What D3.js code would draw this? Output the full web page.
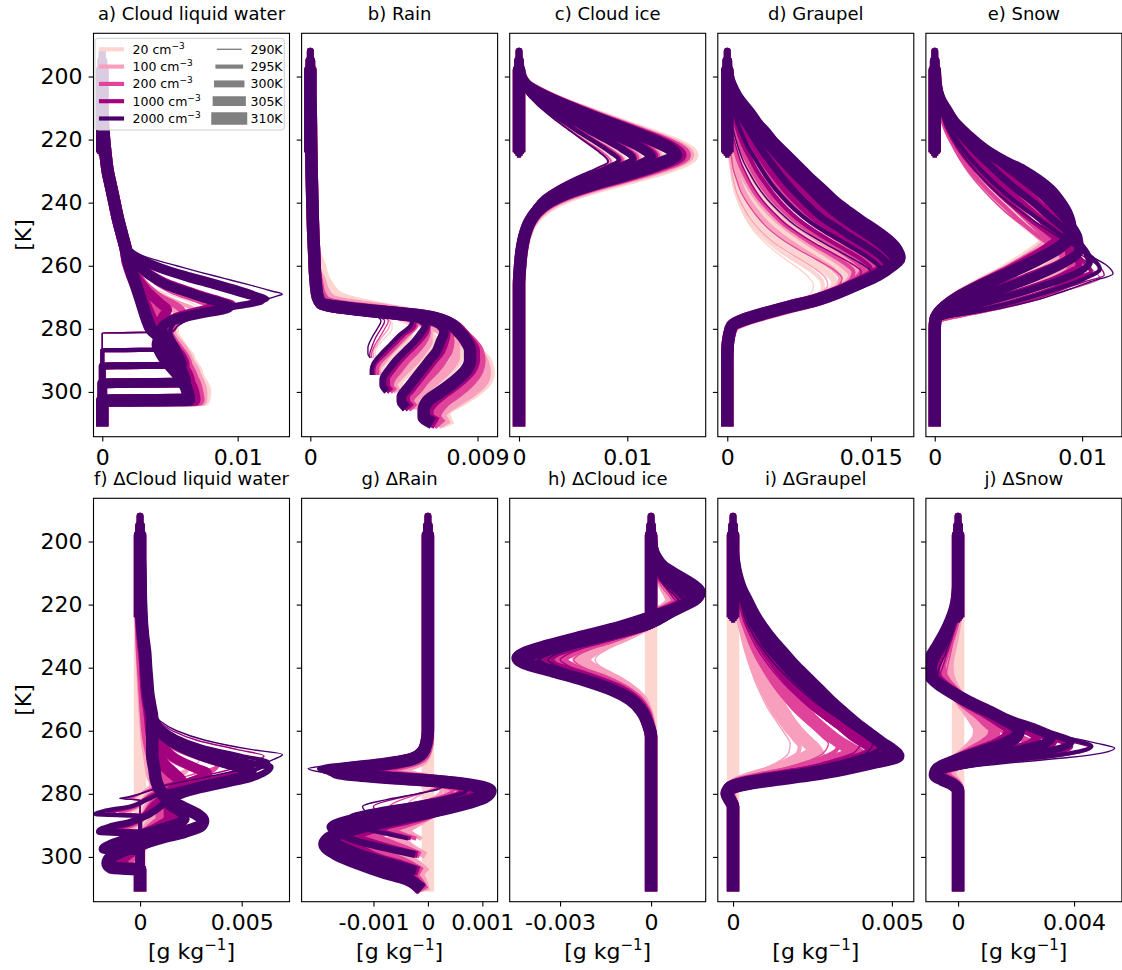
<!DOCTYPE html>
<html><head><meta charset="utf-8">
<script src="https://cdn.jsdelivr.net/npm/d3@7"></script>
<style>body{margin:0;background:#fff}svg{font-family:"DejaVu Sans",sans-serif}</style>
</head><body><svg id="chart" width="1122" height="970"></svg>
<script>
// Hydrometeor profiles against temperature for 5 CCN concentrations x 5 SSTs.
// Each profile: flat list [T(K), q, T, q, ...] from the lowest level upward,
// q in units of 1e-4 g/kg. Rows are ordered CCN-major (20,100,200,1000,2000), SST-minor.
const sst = [290, 295, 300, 305, 310];
const ccn = ['20', '100', '200', '1000', '2000'];
const ccnColors = ['#fcd5d0', '#f89fbd', '#e0449a', '#a2027e', '#49006a'];
const sstWidths = [1.39, 4.17, 6.94, 9.72, 12.5];
const coldPoint = [199, 199, 192, 195, 198];
const stratBase = [225, 225, 224, 223, 222];

const liquidAloft = [255,17.5, 250,14.5, 245,11.5, 240,9, 235,6.5, 230,4, 225,2.5, 220,1.3, 215,0.5, 208,0];
const rainAloft = [262,2.5, 255,2, 250,1.6, 240,1.1, 230,0.7, 220,0.4, 210,0.2, 205,0];

const cloudLiquid = [
[289,0, 281.3,0, 281,48, 279,52, 277,58, 275,66, 273,70, 271,62, 268,42, 265,30, 262,24, 259,19],
[294,0, 286.8,0, 286.5,58, 284,57, 281,55, 278,55, 276,58, 274,56, 271,45, 268,34, 264,26, 260,20],
[299,0, 291.8,0, 291.5,67, 289,66, 286,61, 283,56, 280,52, 277,50, 274,46, 270,38, 266,30, 262,24, 259,19],
[304,0, 297.3,0, 297,72, 294,71, 291,67, 288,61, 285,56, 282,52, 279,48, 275,42, 271,35, 267,29, 263,24, 259,19],
[309,0, 302.8,0, 302.5,75, 300,76, 297,73, 294,68, 291,63, 288,58, 285,53, 282,48, 279,44, 275,39, 271,33, 267,28, 263,23, 259,19],
[289,0, 281.3,0, 281,48, 279,53, 277,60, 275,72, 273,88, 272,95, 270.5,87, 269,75, 267,60, 265,47, 262,34, 259,26, 256,21],
[294,0, 286.8,0, 286.5,58, 284,56, 281,53, 278,54, 276,62, 274,68, 272,58, 269,42, 265,30, 262,24, 259,19],
[299,0, 291.8,0, 291.5,66, 289,64, 286,60, 283,54, 280,50, 277,52, 275,55, 272,46, 268,35, 264,27, 260,21],
[304,0, 297.3,0, 297,70, 294,69, 291,65, 288,59, 285,54, 282,50, 279,46, 276,45, 273,40, 269,33, 265,27, 261,22],
[309,0, 302.8,0, 302.5,73, 300,73, 297,71, 294,67, 291,61, 288,56, 285,51, 282,46, 279,42, 275,38, 271,32, 267,27, 263,23, 259,19],
[289,0, 281.3,0, 281,50, 279,55, 277,62, 275,75, 273,95, 271,110, 270,113, 268.5,104, 267,90, 265,72, 263,56, 261,43, 259,32, 257,25, 255,20.5, 253,18],
[294,0, 286.8,0, 286.5,56, 284,54, 281,51, 278,53, 276,62, 274,76, 273,80, 271.5,72, 270,62, 268,50, 265,38, 262,29, 259,23, 256,19.5],
[299,0, 291.8,0, 291.5,64, 289,62, 286,57, 283,52, 280,48, 277,52, 275,60, 273,56, 270,43, 266,32, 262,25, 259,20],
[304,0, 297.3,0, 297,68, 294,66, 291,62, 288,56, 285,51, 282,47, 279,44, 276,44, 273,39, 269,32, 265,26, 261,21],
[309,0, 302.8,0, 302.5,71, 300,70, 297,68, 294,63, 291,58, 288,53, 285,48, 282,44, 279,40, 275,36, 271,31, 267,27, 263,23, 259,19],
[289,0, 281.3,0, 281,50, 279,56, 277,65, 275,80, 273,100, 271,115, 270,118, 268.5,110, 267,96, 265,78, 263,61, 261,46, 259,34, 257,26, 255,21, 253,18],
[294,0, 286.8,0, 286.5,55, 284,53, 281,50, 278,53, 276,65, 274,85, 273,94, 272,97, 270.5,88, 269,76, 267,62, 265,49, 262,36, 259,27, 256,21, 253,18],
[299,0, 291.8,0, 291.5,62, 289,60, 286,55, 283,50, 280,46, 277,50, 275,62, 274,72, 273,80, 272,84, 270.5,75, 268.5,62, 266,48, 263,36, 260,28, 257,22, 254,18],
[304,0, 297.3,0, 297,65, 294,63, 291,58, 288,52, 285,47, 282,43, 279,42, 276,45, 274,48, 272,43, 268,33, 264,26, 260,21],
[309,0, 302.8,0, 302.5,68, 300,67, 297,64, 294,59, 291,54, 288,49, 285,45, 282,41, 279,38, 275,34, 271,30, 267,26, 263,22, 259,19],
[289,0, 281.3,0, 281,52, 279,56, 277,64, 275,72, 273,95, 271,118, 269.5,130, 269,133, 268,125, 266,108, 264,90, 262,72, 260,55, 258,38, 256,25, 254,19],
[294,0, 286.8,0, 286.5,56, 284,53, 281,50, 278,54, 276,66, 274,88, 272,110, 270.5,122, 269,114, 267,100, 265,84, 263,67, 261,51, 259,38, 257,28, 255,21, 253,18],
[299,0, 291.8,0, 291.5,60, 289,58, 286,54, 283,49, 280,45, 277,50, 275,68, 273,95, 272,110, 271,118, 269.5,108, 268,96, 266,80, 264,63, 262,48, 260,36, 258,27, 256,21, 254,18],
[304,0, 297.3,0, 297,62, 294,60, 291,56, 288,50, 285,45, 282,42, 279,45, 277,55, 275,75, 274,88, 273,94, 271.5,86, 270,74, 268,60, 266,47, 263,35, 260,27, 257,21, 254,17.5],
[309,0, 302.8,0, 302.5,64, 300,63, 297,60, 294,55, 291,49, 288,44, 285,41, 283,42, 280,36, 277,33, 273,30, 269,27, 265,24, 261,21, 258,19]
];

const rain = [
[289,35, 287,35, 285,37, 283,40, 280,44, 278,44, 276,36, 274,22, 272,13, 269,8, 265,6, 260,5],
[294,39, 292,39, 290,42, 288,45, 285,50, 282,54, 279,54, 277,48, 275,36, 273,22, 271,14, 268,9, 264,6, 260,5],
[299,49, 297,48, 295,51, 293,55, 290,60, 287,64, 284,66, 281,65, 278,58, 276,48, 274,33, 272,20, 270,13, 267,9, 263,6, 260,5],
[304,59, 302,58, 300,61, 298,66, 295,72, 292,77, 289,80, 286,80, 283,76, 280,70, 277,60, 275,45, 273,28, 271,16, 268,10, 264,7, 260,5],
[309,73, 307,72, 305,74, 303,80, 300,88, 297,94, 294,96, 291,95, 288,91, 285,86, 282,80, 279,72, 276,60, 274,42, 272,25, 270,15, 267,10, 264,7, 260,5],
[289,34, 287,34, 285,36, 283,38, 280,42, 278,43, 276,38, 274.5,25, 273,13, 271,7, 268,5, 264,3.5],
[294,37, 292.5,37, 291,39, 288,43, 285,48, 282,53, 279,56, 277,52, 275.5,40, 274,24, 272.5,12, 270.5,7, 267,5, 263,3.5],
[299,46, 297.5,45, 296,47, 293,52, 290,57, 287,61, 284,64, 281,64, 278,58, 276,46, 274.5,30, 273,16, 271,9, 268,6, 264,4],
[304,56, 302.5,56, 301,58, 298,64, 295,70, 292,75, 289,78, 286,78, 283,75, 280,69, 277,58, 275,42, 273.5,24, 272,12, 270,7, 266,4.5],
[309,71, 307.5,70, 306,71, 303,78, 300,86, 297,92, 294,94, 291,93, 288,90, 285,85, 282,79, 279,71, 276,58, 274,40, 272.5,22, 271,11, 268,7, 264,4.5],
[289,33, 288,33, 286,34, 283,37, 280,40, 277.5,42, 276,38, 274.5,24, 273,11, 271,6, 268,4, 264,3],
[294,36, 293,36, 291,37, 288,42, 285,47, 282,52, 279,57, 277,55, 275.5,42, 274,24, 272.5,10, 271,6, 268,4, 264,3],
[299,44, 298,43, 296,44, 293,48, 290,52, 287,57, 284,61, 281,63, 279,62, 277,56, 275.5,40, 274,22, 272.5,10, 271,6, 268,4, 264,3],
[304,54, 303,53, 301.5,54, 299,58, 296,62, 293,67, 290,71, 287,74, 284,75, 281,74, 278,67, 276,52, 274.5,30, 273,13, 271.5,7, 269,5, 265,3.5],
[309,68, 308,67, 306,68, 303,72, 300,79, 297,85, 293,90, 290,91, 287,90, 284,86, 281,80, 278,72, 276,60, 274.5,40, 273,18, 271.5,8, 269,5, 265,3.5],
[289,32, 288,32, 286,33, 283,35, 280,38, 277.5,40, 276,36, 274.5,22, 273.5,9, 272.5,5, 270,4, 266,3],
[294,34, 293,34, 291,35, 288,40, 285,45, 282,50, 279,56, 277,56, 275.5,42, 274,22, 273,9, 272,5, 270,4, 266,3],
[299,42, 298,41, 296,41, 293,44, 290,48, 287,53, 284,58, 281,62, 279,63, 277,58, 275.5,40, 274,20, 273,9, 272,5, 270,4, 266,3],
[304,52, 303,51, 301.5,51, 299,54, 296,58, 293,62, 290,66, 287,70, 284,72, 281,73, 278,68, 276,52, 274.5,28, 273,10, 272,5, 270,4, 266,3],
[309,65, 308,63, 306,63, 303,66, 300,72, 297,79, 293,86, 290,88, 287,88, 284,85, 281,81, 278,74, 276,62, 274.5,38, 273,14, 272,6, 270,4, 266,3],
[289,32, 288,31, 286,31, 283,33, 280,36, 277.5,38, 276,35, 274.5,22, 273.5,8, 272.5,5, 270,4, 266,3],
[294,33, 293,33, 291,34, 288,38, 285,43, 282,48, 279,54, 277,55, 275.5,42, 274,22, 273,8, 272,5, 270,4, 266,3],
[299,40, 298,39, 296,39, 293,42, 290,46, 287,51, 284,56, 281,60, 279,62, 277,58, 275.5,40, 274,20, 273,8, 272,5, 270,4, 266,3],
[304,50, 303,49, 301.5,49, 299,52, 296,56, 293,60, 290,64, 287,68, 284,70, 281,72, 278,68, 276,52, 274.5,28, 273,9, 272,5, 270,4, 266,3],
[309,63, 308,61, 306,61, 303,63, 300,70, 297,77, 293,84, 290,86, 287,86, 284,84, 281,80, 278,74, 276,62, 274.5,38, 273,14, 272,6, 270,4, 266,3]
];

const cloudIce = [
[289,0, 266,0, 260,1, 255,2.3, 250,4.5, 245,9.5, 241,16, 238,26, 235,40, 232,58, 229,79, 227,88, 224,80, 221,67, 218,54, 215,41, 212,29, 209,18, 206,9.5, 203,4, 200.5,1],
[294,0, 266,0, 260,1, 255,2.3, 250,5, 245,10.5, 241,18, 238,30, 235,46, 232,64, 229,87, 226.5,98, 224,90, 221,76, 218,61, 215,47, 212,33, 209,21, 206,10.5, 203,4, 200.5,1],
[299,0, 266,0, 260,1.1, 255,2.6, 250,5.8, 245,12, 241,21, 238,34, 235,52, 232,74, 229,98, 226,112, 223,102, 220,86, 217,69, 214,52, 211,36, 208,22, 205,11, 202,4, 199.5,1],
[304,0, 266,0, 260,1.2, 255,2.8, 250,6, 245,13, 241,24, 238,39, 235,60, 232,86, 229,114, 227,126, 225.5,130, 223,122, 220,104, 217,83, 214,63, 211,44, 208,27, 205,13, 202,4.5, 199.5,1],
[309,0, 266,0, 260,1.2, 255,3, 250,6.5, 246,12, 243,20, 240,33, 237,54, 234,83, 231,116, 228,144, 226,157, 225,160, 223,154, 220,134, 217,109, 214,84, 211,60, 208,37, 205,18, 203,7.5, 201,2.5, 199,0.5],
[289,0, 266,0, 260,0.9, 255,2.1, 250,4.2, 245,9, 241,15, 238,24, 235,37, 232,55, 229,76, 227,86, 224,78, 221,65, 218,52, 215,40, 212,28, 209,17, 206,9, 203,4, 200.5,1],
[294,0, 266,0, 260,0.9, 255,2.1, 250,4.7, 245,10, 241,17, 238,28, 235,43, 232,61, 229,84, 226.5,96, 224,88, 221,74, 218,60, 215,46, 212,32, 209,20, 206,10, 203,4, 200.5,1],
[299,0, 266,0, 260,1, 255,2.4, 250,5.4, 245,11, 241,20, 238,32, 235,49, 232,71, 229,95, 226,110, 223,100, 220,84, 217,67, 214,51, 211,35, 208,22, 205,11, 202,4, 199.5,1],
[304,0, 266,0, 260,1.1, 255,2.6, 250,5.5, 245,12, 241,22, 238,36, 235,57, 232,82, 229,110, 227,123, 225.5,128, 223,120, 220,102, 217,81, 214,62, 211,43, 208,26, 205,12.5, 202,4.5, 199.5,1],
[309,0, 266,0, 260,1.1, 255,2.7, 250,6, 246,11, 243,18, 240,30, 237,50, 234,78, 231,110, 228,138, 226,152, 225,156, 223,150, 220,130, 217,106, 214,82, 211,58, 208,36, 205,17, 203,7, 201,2.5, 199,0.5],
[289,0, 266,0, 260,0.8, 255,2, 250,4, 245,8.5, 241,14.5, 238,23, 235,36, 232,54, 229,75, 227,85, 224,77, 221,64, 218,51, 215,39, 212,28, 209,17, 206,9, 203,4, 200.5,1],
[294,0, 266,0, 260,0.8, 255,2, 250,4.5, 245,9.5, 241,16.5, 238,27, 235,42, 232,60, 229,83, 226.5,95, 224,87, 221,73, 218,59, 215,45, 212,32, 209,20, 206,10, 203,4, 200.5,1],
[299,0, 266,0, 260,0.9, 255,2.3, 250,5.2, 245,10.5, 241,19, 238,31, 235,47, 232,69, 229,93, 226,108, 223,98, 220,82, 217,66, 214,50, 211,35, 208,21, 205,11, 202,4, 199.5,1],
[304,0, 266,0, 260,1, 255,2.5, 250,5.3, 245,11.5, 241,21, 238,35, 235,55, 232,80, 229,108, 227,121, 225.5,126, 223,118, 220,100, 217,80, 214,61, 211,42, 208,26, 205,12, 202,4.5, 199.5,1],
[309,0, 266,0, 260,1, 255,2.6, 250,5.8, 246,10.5, 243,17, 240,28, 237,47, 234,74, 231,106, 228,134, 226,149, 225,153, 223,147, 220,128, 217,104, 214,80, 211,57, 208,35, 205,17, 203,7, 201,2.5, 199,0.5],
[289,0, 266,0, 260,0.8, 255,2, 250,4, 245,8, 241,14, 238,22, 235,36, 232,53, 229,73, 227,83, 224,75, 221,63, 218,51, 215,39, 212,28, 209,17, 206,9, 203,4, 200.5,1],
[294,0, 266,0, 260,0.8, 255,2, 250,4.5, 245,9, 241,16, 238,26, 235,41, 232,59, 229,81, 226.5,93, 224,85, 221,72, 218,58, 215,44, 212,31, 209,20, 206,10, 203,4, 200.5,1],
[299,0, 266,0, 260,0.9, 255,2.2, 250,5, 245,10, 241,18, 238,30, 235,46, 232,67, 229,91, 226,106, 223,96, 220,81, 217,65, 214,49, 211,34, 208,21, 205,11, 202,4, 199.5,1],
[304,0, 266,0, 260,1, 255,2.4, 250,5, 245,11, 241,20, 238,34, 235,53, 232,78, 229,106, 227,119, 225.5,124, 223,116, 220,98, 217,79, 214,60, 211,42, 208,25, 205,12, 202,4.5, 199.5,1],
[309,0, 266,0, 260,1, 255,2.5, 250,5.5, 246,10, 243,16, 240,27, 237,45, 234,72, 231,103, 228,130, 226,145, 225,149, 223,143, 220,125, 217,102, 214,78, 211,56, 208,35, 205,16, 203,7, 201,2.5, 199,0.5],
[289,0, 266,0, 260,0.8, 255,2, 250,4, 245,8, 241,14, 238,22, 235,35, 232,52, 229,72, 227,82, 224,74, 221,62, 218,50, 215,38, 212,27, 209,17, 206,9, 203,4, 200.5,1],
[294,0, 266,0, 260,0.8, 255,2, 250,4.5, 245,9, 241,16, 238,26, 235,40, 232,58, 229,80, 226.5,92, 224,84, 221,71, 218,57, 215,44, 212,31, 209,20, 206,10, 203,4, 200.5,1],
[299,0, 266,0, 260,0.9, 255,2.2, 250,5, 245,10, 241,18, 238,29, 235,45, 232,66, 229,90, 226,105, 223,95, 220,80, 217,64, 214,49, 211,34, 208,21, 205,11, 202,4, 199.5,1],
[304,0, 266,0, 260,1, 255,2.4, 250,5, 245,11, 241,20, 238,33, 235,52, 232,77, 229,104, 227,117, 225.5,122, 223,114, 220,97, 217,78, 214,59, 211,41, 208,25, 205,12, 202,4.5, 199.5,1],
[309,0, 266,0, 260,1, 255,2.5, 250,5.5, 246,10, 243,16, 240,26, 237,44, 234,70, 231,100, 228,127, 226,141, 225,145, 223,140, 220,122, 217,100, 214,77, 211,55, 208,34, 205,16, 203,7, 201,2.5, 199,0.5]
];

const graupel = [
[289,0, 284,0, 282,2.5, 280,7, 278,15, 276,31, 274,50, 272,68, 270,82, 268,89, 266,90, 264,86, 261,75, 258,61, 255,48, 252,37, 249,28, 245,19, 241,13, 237,8, 233,5, 229,3.2, 225,2, 220,1, 213,0.4, 206,0.1, 202,0],
[294,0, 287,0, 284,1.5, 281,4, 279,8, 277,22, 275,43, 273,65, 271,84, 269,96, 267,100, 265,99, 262,90, 259,75, 256,59, 253,46, 250,35, 247,26, 243,18, 239,12, 235,8, 231,5.5, 227,3.5, 222,2, 216,1, 209,0.3, 203,0],
[299,0, 290,0, 285,0.5, 282,2.5, 279,7, 277,22, 275,44, 273,67, 271,89, 268,106, 266,112, 265,112, 262,104, 259,89, 256,73, 253,58, 250,45, 247,35, 243,25, 239,17, 235,11.5, 231,8, 227,5.5, 223,3.5, 218,2, 213,1, 207,0.4, 202,0],
[304,0, 290,0, 285,0.5, 282,2.5, 279,7, 277,22, 275,44, 273,68, 271,91, 268,113, 266,123, 264,125, 261,118, 258,104, 255,88, 252,72, 249,58, 246,46, 242,34, 238,24, 234,17, 230,12, 226,8, 222,5.5, 218,3.5, 213,2, 208,1, 203,0.3],
[309,0, 290,0, 285,0.5, 282,2.5, 279,7, 277,22, 275,44, 273,68, 271,92, 268,117, 266,130, 264,137, 263,138, 260,132, 257,120, 254,105, 251,89, 248,74, 245,60, 242,48, 238,36, 234,27, 230,20, 226,14, 222,10, 218,7, 214,4.5, 210,2.5, 206,1.2, 202,0.4],
[289,0, 284,0, 282,2, 280,6, 278,14, 276,30, 274,50, 272,70, 270,88, 268,100, 266,105, 264,103, 261,92, 258,76, 255,60, 252,46, 249,35, 245,24, 241,16, 237,10, 233,6.5, 229,4, 225,2.5, 220,1.3, 214,0.6, 208,0.2, 202,0],
[294,0, 287,0, 284,1, 281,3, 279,7, 277,20, 275,42, 273,65, 271,88, 268,108, 266,116, 264,118, 261,110, 258,95, 255,79, 252,64, 249,51, 246,40, 242,29, 238,20, 234,14, 230,10, 226,7, 222,4.5, 218,3, 213,1.5, 207,0.5, 202,0],
[299,0, 290,0, 285,0.5, 282,2, 279,6, 277,20, 275,42, 273,66, 271,89, 268,112, 266,123, 264,129, 263,130, 260,122, 257,108, 254,92, 251,77, 248,63, 245,51, 241,38, 237,28, 233,20, 229,14, 225,10, 221,7, 217,4.5, 213,3, 209,1.5, 205,0.6, 201,0.1],
[304,0, 290,0, 285,0.5, 282,2, 279,6, 277,20, 275,42, 273,66, 271,90, 268,114, 266,127, 263,138, 262,140, 259,133, 256,120, 253,105, 250,90, 247,76, 244,63, 240,50, 236,39, 232,30, 228,23, 224,17, 220,12, 216,8, 212,5, 208,2.5, 204,1, 200,0.3],
[309,0, 290,0, 285,0.5, 282,2, 279,6, 277,20, 275,42, 273,66, 271,91, 268,116, 266,129, 263,145, 261,150, 258,146, 255,136, 252,122, 249,107, 246,93, 243,80, 240,68, 236,56, 233,47, 230,39, 227,32, 224,25, 221,19, 218,14, 215,10, 212,7, 209,4, 206,2, 203,0.8, 201,0.3],
[289,0, 284,0, 282,2, 280,6, 278,14, 276,30, 274,50, 272,72, 270,93, 268,108, 266,117, 264,120, 261,110, 258,93, 255,75, 252,59, 249,46, 245,33, 241,23, 237,15, 233,10, 229,6, 225,4, 220,2, 214,1, 208,0.3, 202,0],
[294,0, 287,0, 284,1, 281,3, 279,7, 277,20, 275,42, 273,66, 271,90, 268,113, 266,124, 264,130, 262,132, 259,122, 256,106, 253,89, 250,74, 247,60, 243,46, 239,34, 235,25, 231,18, 227,12, 223,8, 219,5, 215,3, 210,1.5, 205,0.5, 201,0.1],
[299,0, 290,0, 285,0.5, 282,2, 279,6, 277,20, 275,42, 273,66, 271,91, 268,115, 266,128, 263,139, 261,142, 258,133, 255,119, 252,103, 249,88, 246,74, 242,59, 238,46, 234,36, 230,28, 226,21, 222,15, 218,10, 214,6, 210,3.5, 206,1.5, 202,0.5, 199.5,0.1],
[304,0, 290,0, 285,0.5, 282,2, 279,6, 277,20, 275,42, 273,66, 271,92, 268,117, 266,131, 263,146, 261,151, 260,152, 257,145, 254,132, 251,117, 248,102, 245,88, 241,73, 237,60, 233,49, 229,39, 225,31, 221,23, 217,17, 213,11, 209,6, 205,3, 202,1, 200,0.3],
[309,0, 290,0, 285,0.5, 282,2, 279,6, 277,20, 275,42, 273,66, 271,92, 268,118, 266,132, 263,150, 260,159, 259,160, 256,155, 253,145, 250,131, 247,117, 244,103, 240,89, 236,76, 233,66, 230,57, 227,48, 224,40, 221,32, 218,25, 215,19, 212,14, 209,9, 206,5, 203,2, 201,0.7],
[289,0, 284,0, 282,2, 280,5, 278,12, 276,28, 274,49, 272,73, 270,97, 268,116, 266,129, 264,137, 262,140, 259,128, 256,110, 253,92, 250,76, 247,62, 243,48, 239,36, 235,27, 231,20, 227,14, 223,10, 219,6, 215,4, 210,2, 205,0.8, 201,0.2],
[294,0, 287,0, 284,1, 281,3, 279,6, 277,18, 275,40, 273,64, 271,90, 268,116, 266,131, 264,143, 261,150, 258,140, 255,124, 252,107, 249,91, 246,77, 242,62, 238,50, 234,40, 230,31, 226,24, 222,17, 218,12, 214,8, 210,5, 206,2.5, 202,0.8, 200,0.2],
[299,0, 290,0, 285,0.5, 282,2, 279,5, 277,18, 275,40, 273,64, 271,90, 268,118, 266,134, 263,152, 261,158, 260,160, 257,151, 254,137, 251,121, 248,106, 245,92, 241,77, 237,64, 233,53, 229,43, 225,34, 221,26, 217,19, 213,12, 209,7, 205,3, 202,1, 199.5,0.2],
[304,0, 290,0, 285,0.5, 282,2, 279,5, 277,18, 275,40, 273,64, 271,90, 268,118, 266,134, 263,154, 260,165, 259,168, 256,163, 253,152, 250,138, 247,123, 244,109, 240,94, 236,81, 233,71, 230,62, 227,53, 224,45, 221,37, 218,29, 215,22, 212,16, 209,10, 206,5, 203,2, 200,0.5],
[309,0, 290,0, 285,0.5, 282,2, 279,5, 277,18, 275,40, 273,64, 271,90, 268,118, 266,133, 263,153, 260,168, 258,174, 255,171, 252,162, 249,149, 246,135, 243,121, 240,108, 236,94, 233,83, 230,73, 227,63, 224,53, 221,44, 218,36, 215,28, 212,21, 209,14, 206,8, 203,3.5, 201,1.2],
[289,0, 284,0, 282,2, 280,5, 278,12, 276,28, 274,50, 272,75, 270,100, 268,120, 266,135, 264,145, 262,150, 259,138, 256,120, 253,102, 250,85, 247,70, 243,55, 239,42, 235,32, 231,24, 227,17, 223,12, 219,8, 215,5, 210,2.5, 205,1, 201,0.3],
[294,0, 287,0, 284,1, 281,3, 279,6, 277,18, 275,40, 273,65, 271,92, 268,120, 266,136, 264,150, 261,160, 258,150, 255,135, 252,118, 249,101, 246,86, 242,70, 238,57, 234,46, 230,37, 226,29, 222,21, 218,15, 214,10, 210,6, 206,3, 202,1, 200,0.3],
[299,0, 290,0, 285,0.5, 282,2, 279,5, 277,18, 275,40, 273,65, 271,92, 268,121, 266,138, 263,157, 261,165, 260,168, 257,160, 254,146, 251,130, 248,115, 245,100, 241,85, 237,72, 233,60, 229,50, 225,40, 221,31, 217,23, 213,15, 209,9, 205,4, 202,1.5, 199.5,0.3],
[304,0, 290,0, 285,0.5, 282,2, 279,5, 277,18, 275,40, 273,65, 271,92, 268,121, 266,138, 263,158, 260,171, 258.5,175, 256,171, 253,160, 250,146, 247,131, 244,117, 240,101, 236,88, 233,78, 230,68, 227,59, 224,50, 221,41, 218,33, 215,25, 212,18, 209,12, 206,6, 203,2.5, 200,0.5],
[309,0, 290,0, 285,0.5, 282,2, 279,5, 277,18, 275,40, 273,65, 271,92, 268,120, 266,135, 263,157, 260,172, 257.5,180, 255,177, 252,168, 249,155, 246,140, 243,126, 240,113, 236,99, 233,88, 230,78, 227,68, 224,58, 221,48, 218,40, 215,31, 212,24, 209,16, 206,9, 203,4, 201,1.5]
];

const snow = [
[289,0, 280,0, 278,1.5, 277,9, 275.5,22, 273.5,40, 271,58, 268,75, 265,88, 262,95, 259,91, 256,83, 253,74, 249,63, 245,53, 241,44, 237,36, 233,28, 229,21.5, 225,16, 221,11.5, 217,7.5, 213,4.5, 209,2.5, 205,1, 201,0.3],
[294,0, 280,0, 277.5,1.5, 276.5,10, 275,24, 273,41, 270.5,58, 267.5,73, 264,84, 260,88, 257,86, 254,80, 250,71, 246,62, 242,53, 238,44, 234,36, 230,28, 226,21, 222,15, 218,10, 214,6, 210,3.5, 206,1.5, 202,0.4],
[299,0, 280,0, 277.5,1, 276,7, 274,18, 271.5,34, 268.5,51, 265,67, 261,79, 257,85, 253,83, 249,78, 245,71, 241,63, 237,54, 233,45, 229,36, 225,28, 221,20, 217,13, 213,8, 209,4.5, 205,2, 201,0.5],
[304,0, 280,0, 277,1, 275,5, 272.5,14, 270,27, 267,43, 263,60, 259,73, 254,82, 250,81, 246,78, 242,72, 238,65, 234,56, 230,46, 226,36, 222,27, 218,18, 214,11, 210,6, 206,2.5, 202,0.8],
[309,0, 280,0, 277,0.5, 275.5,2, 273,7, 270,15, 266,30, 262,46, 258,60, 254,72, 250,80, 247,80, 243,78, 239,73, 235,66, 232,59, 229,51, 226,42, 223,33, 220,25, 217,18, 214,12, 210,7, 207,3.5, 204,1.5, 201,0.5],
[289,0, 280,0, 278,1.5, 277,9, 275.5,23, 273.5,43, 271,63, 268,82, 265.5,96, 263,104, 260,99, 257,89, 254,79, 250,67, 246,56, 242,46, 238,37, 234,29, 230,22, 226,16.5, 222,12, 218,8, 214,5, 210,3, 206,1.2, 202,0.4, 200,0.1],
[294,0, 280,0, 277.5,1.5, 276.5,10, 275,25, 273,44, 270.5,62, 268,77, 265,89, 262,94, 259,90, 256,83, 252,73, 248,63, 244,53, 240,44, 236,36, 232,28, 228,21, 224,15.5, 220,11, 216,7, 212,4, 208,2, 204,0.8, 200,0.2],
[299,0, 280,0, 277.5,1, 276,7, 274,19, 271.5,36, 269,53, 266,70, 263,82, 260,88, 257,86, 253,80, 249,72, 245,63, 241,54, 237,45, 233,37, 229,29, 225,22, 221,16, 217,10, 213,6, 209,3.5, 205,1.5, 201,0.3],
[304,0, 280,0, 277,1, 275,5, 272.5,14, 270,28, 267,45, 264,62, 261,76, 257,85, 253,84, 249,80, 245,74, 241,67, 237,59, 233,50, 229,41, 225,32, 221,24, 217,16, 213,10, 209,5.5, 205,2.5, 201,0.6],
[309,0, 280,0, 277,0.5, 275.5,2, 273,7, 270,16, 266,31, 262,48, 258,63, 254,75, 251,82, 248,82, 244,80, 240,75, 236,68, 233,61, 230,53, 227,43, 224,34, 221,26, 218,19, 215,12.5, 211,7.5, 208,3.5, 205,1.5, 202,0.5],
[289,0, 280,0, 278,1.5, 277,9, 275.5,24, 273.5,46, 271,68, 268,88, 266,102, 264,112, 261,106, 258,95, 255,84, 251,71, 247,59, 243,48, 239,39, 235,31, 231,24, 227,18, 223,13, 219,8.5, 215,5.5, 211,3, 207,1.5, 203,0.5, 200,0.1],
[294,0, 280,0, 277.5,1.5, 276.5,10, 275,26, 273,46, 270.5,65, 268,82, 265,95, 263,100, 260,96, 257,88, 253,77, 249,66, 245,56, 241,47, 237,38, 233,30, 229,23, 225,17, 221,12, 217,7.5, 213,4.5, 209,2.5, 205,1, 201,0.2],
[299,0, 280,0, 277.5,1, 276,7, 274,20, 271.5,38, 269,56, 266,74, 263,87, 261,92, 258,89, 254,82, 250,74, 246,65, 242,56, 238,47, 234,39, 230,31, 226,24, 222,17, 218,11, 214,7, 210,4, 206,1.5, 202,0.4],
[304,0, 280,0, 277,1, 275,5, 272.5,15, 270,29, 267,46, 264,64, 261,79, 258,88, 255,87, 251,83, 247,77, 243,70, 239,62, 235,53, 231,44, 227,35, 223,26, 219,18, 215,11, 211,6, 207,3, 203,1, 200,0.2],
[309,0, 280,0, 277,0.5, 275.5,2, 273,7, 270,16, 266,32, 262,49, 258,64, 255,76, 252,84, 249,84, 245,82, 241,77, 237,70, 234,63, 231,55, 228,45, 225,36, 222,27, 219,20, 216,13, 212,8, 209,4, 206,1.5, 202,0.5],
[289,0, 280,0, 278,1, 276.5,8, 275.5,21, 273.5,43, 271,65, 268,84, 265,102, 263,115, 260,111, 257,101, 254,90, 250,77, 246,65, 242,54, 238,44, 234,35, 230,27, 226,20, 222,14, 218,9.5, 214,6, 210,3.5, 206,1.5, 202,0.5, 200,0.1],
[294,0, 280,0, 277.5,1, 276,9, 274.5,24, 272.5,43, 270,62, 267,81, 264,96, 262,106, 259,102, 256,94, 252,83, 248,72, 244,61, 240,51, 236,42, 232,33, 228,25, 224,18, 220,12.5, 216,8, 212,5, 208,2.5, 204,1, 200,0.2],
[299,0, 280,0, 277,1, 275.5,7, 273.5,19, 271,38, 268,59, 265,78, 262,92, 260,98, 257,96, 253,89, 249,80, 245,71, 241,61, 237,52, 233,43, 229,34, 225,26, 221,19, 217,12, 213,7.5, 209,4, 205,1.5, 201,0.3],
[304,0, 280,0, 277,1, 275,5, 272.5,15, 270,29, 267,46, 263,67, 260,83, 257,92, 253,90, 249,85, 245,79, 241,71, 237,62, 233,52, 229,42, 225,32, 221,23, 217,15, 213,9, 209,5, 205,2, 201,0.5],
[309,0, 280,0, 277,0.5, 275.5,2, 273,7, 270,16, 266,32, 262,50, 258,66, 254,79, 251,86, 248,86, 244,84, 240,79, 236,72, 233,64, 230,55, 227,44, 224,34, 221,25, 218,18, 215,12, 211,7, 208,3.5, 205,1.5, 202,0.5],
[289,0, 280,0, 278,1, 276.5,8, 275.5,22, 273.5,45, 271,68, 268,88, 265,106, 262.5,121, 260,117, 257,106, 254,95, 250,81, 246,68, 242,56, 238,45, 234,36, 230,28, 226,21, 222,15, 218,10, 214,6, 210,3.5, 206,1.5, 202,0.5, 200,0.1],
[294,0, 280,0, 277.5,1, 276,9, 274.5,25, 272.5,45, 270,65, 267,85, 264,102, 261,112, 258,108, 255,100, 251,88, 247,76, 243,64, 239,53, 235,43, 231,34, 227,26, 223,19, 219,13, 215,8, 211,5, 207,2.5, 203,1, 200,0.2],
[299,0, 280,0, 277,1, 275.5,7, 273.5,20, 271,40, 268,62, 265,82, 262,98, 259,105, 256,103, 252,96, 248,87, 244,77, 240,67, 236,56, 232,46, 228,37, 224,28, 220,20, 216,13, 212,8, 208,4, 204,1.5, 200,0.3],
[304,0, 280,0, 277,1, 275,5, 272.5,15, 270,30, 267,48, 263,70, 259,88, 255,98, 251,97, 247,92, 243,85, 239,77, 235,67, 231,56, 227,45, 223,34, 219,24, 215,15, 211,9, 207,4, 203,1.5, 200,0.3],
[309,0, 280,0, 277,0.5, 275.5,2, 273,7, 270,16, 266,33, 262,52, 258,70, 254,85, 251,91, 248,92, 244,90, 240,85, 236,78, 233,70, 230,60, 227,47, 224,36, 221,27, 218,19, 215,13, 211,8, 208,4, 205,1.5, 202,0.5]
];

// Differences relative to the 20 cm^-3 run (so the first five rows are zero)
const dCloudLiquid = [
[289,0, 205,0], [294,0, 205,0], [299,0, 205,0], [304,0, 205,0], [309,0, 205,0],
[289,0, 282,0, 281.5,-3, 281,-2, 279,2, 277,6, 275,13, 273,20, 271,26, 269.5,29, 268,26, 266,19, 263,11, 260,6, 256,3, 250,1.5, 240,0.8, 225,0.3, 205,0],
[294,0, 287,0, 286.5,-6, 285.5,-5, 284,-1, 282,1.5, 280,4, 278,8, 276,14, 274,20, 272.5,23, 271,22, 269,17, 266,10, 262,5, 257,3, 250,1.5, 240,0.8, 225,0.3, 205,0],
[299,0, 292.5,0, 292,-5, 290.5,-4, 289,-1, 287,1.5, 284,3.5, 281,6, 279,9, 277,13, 275,17, 273.5,18, 272,15, 269,9, 265,5, 260,3, 250,1.5, 240,0.8, 225,0.3, 205,0],
[304,0, 298,0, 297.5,-5, 296,-4, 294,-1, 292,2, 290,4.5, 288,6, 285,6, 282,6, 279,7, 277,9, 275,10, 273,9, 270,6, 265,4, 258,2.5, 248,1.5, 235,0.7, 220,0.2, 205,0],
[309,0, 304,0, 303.5,-4, 302,-4.5, 300,-3, 298,-1, 296,1, 294,3, 292,6, 290,8, 288,9, 286,8, 283,7, 280,7, 277,7.5, 274,6, 270,5, 264,3.5, 256,2.5, 245,1.5, 235,0.8, 222,0.3, 205,0],
[289,0, 282,0, 281.5,-5, 281,-3, 279,3, 277,10, 275,20, 273,30, 271,39, 269.5,44, 268,40, 266,30, 263,17, 260,9, 256,5, 252,3, 245,1.5, 235,0.8, 220,0.2, 205,0],
[294,0, 287,0, 286.5,-10, 285.5,-8, 284,-2, 282,2, 280,6, 278,13, 276,22, 274,31, 272.5,36, 271,38, 269,30, 266,18, 263,10, 259,5, 254,3, 245,1.5, 235,0.8, 220,0.2, 205,0],
[299,0, 292.5,0, 292,-9, 290.5,-7, 289,-2, 287,2, 284,5, 281,9, 279,14, 277,21, 275,28, 273.5,31, 272,26, 269,16, 265,9, 261,5, 255,3, 245,1.5, 235,0.8, 220,0.2, 205,0],
[304,0, 298,0, 297.5,-8, 296,-6, 294,-2, 292,3, 290,7, 288,10, 285,10, 282,9, 279,11, 277,15, 275,18, 273,16, 270,11, 266,7, 261,4.5, 255,3, 245,1.5, 235,0.8, 220,0.2, 205,0],
[309,0, 304,0, 303.5,-6, 302,-7, 300,-5, 298,-2, 296,1, 294,5, 292,10, 290,13, 288,14, 286,13, 283,11, 280,11, 277,12, 275,11, 272,8, 268,6, 262,4, 255,3, 245,2, 235,1, 222,0.3, 205,0],
[289,0, 282,0, 281.5,-8, 281,-5, 279,4, 277,13, 275,26, 273,40, 271,52, 269,59, 268,61, 266,48, 263,28, 260,16, 257,9, 254,5, 250,3, 245,2, 240,1.5, 230,0.8, 220,0.3, 205,0],
[294,0, 287,0, 286.5,-16, 285.5,-13, 284,-4, 282,2, 280,8, 278,18, 276,30, 274,42, 272,52, 270.5,56, 269,48, 266,30, 263,17, 260,10, 256,6, 252,3.5, 245,2, 235,1, 220,0.3, 205,0],
[299,0, 292.5,0, 292,-14, 290.5,-11, 289,-4, 287,2, 284,6, 281,12, 279,20, 277,32, 275,44, 273,52, 272,54, 270,42, 267,26, 264,15, 260,8, 256,5, 250,3, 240,1.5, 230,0.8, 220,0.3, 205,0],
[304,0, 298,0, 297.5,-12, 296,-9, 294,-3, 292,4, 290,10, 288,14, 285,14, 282,12, 279,15, 277,22, 275,30, 273.5,33, 272,28, 269,18, 265,11, 261,7, 256,5, 250,3, 240,2, 230,1, 220,0.3, 205,0],
[309,0, 304,0, 303.5,-9, 302,-10, 300,-8, 298,-4, 296,1, 294,8, 292,15, 290,19, 288,20, 286,18, 284,15, 281,14, 278,18, 276,20, 274,17, 271,12, 267,8, 262,6, 256,5, 250,4, 244,3, 238,2.5, 232,1.5, 224,0.6, 212,0.2, 205,0],
[289,0, 282,0, 281.5,-10, 281,-6, 279,5, 277,15, 275,30, 273,45, 271,58, 269,66, 267.5,70, 266,55, 263,32, 260,18, 257,10, 254,6, 250,3.5, 245,2.5, 240,2, 235,1.5, 230,1, 225,0.5, 215,0.2, 205,0],
[294,0, 287,0, 286.5,-22, 285.5,-18, 284,-5, 282,3, 280,10, 278,22, 276,35, 274,48, 272,58, 270,63, 268,50, 265,30, 262,18, 259,11, 256,7, 252,4, 248,3, 240,2, 230,1, 220,0.4, 205,0],
[299,0, 292.5,0, 292,-20, 290.5,-15, 289,-5, 287,3, 285,8, 283,12, 281,18, 279,28, 277,42, 275,55, 273,62, 271.5,64, 270,52, 267,33, 264,20, 261,12, 257,7, 253,4.5, 248,3, 240,2, 230,1, 220,0.4, 205,0],
[304,0, 298,0, 297.5,-18, 296,-14, 294,-5, 292,5, 290,15, 288,22, 286,20, 283,14, 280,18, 278,28, 276,42, 274,52, 273,55, 271,45, 268,30, 265,19, 262,12, 258,8, 254,5, 248,3.5, 240,2.5, 230,1.2, 220,0.5, 205,0],
[309,0, 304,0, 303.5,-14, 302,-16, 300,-14, 298,-8, 296,0, 294,10, 292,22, 290,30, 288.5,31, 286.5,28, 284,20, 282,14, 279,10, 276,8, 272,7, 268,6, 264,6, 260,6, 256,6, 252,5, 248,4, 244,3.5, 240,3, 235,2.5, 230,1.5, 222,0.6, 210,0.2, 205,0]
];

const dRain = [
[289,0, 205,0], [294,0, 205,0], [299,0, 205,0], [304,0, 205,0], [309,0, 205,0],
[289,-2, 287.5,-3, 286,-4, 284,-4, 282,-3, 280,-1, 278.5,0.5, 277,1, 276,0, 275,-2, 274,-5, 273,-7, 272,-7.5, 271,-6, 270,-3.5, 268.5,-1, 266,-0.3, 262,0, 205,0],
[294,-1.5, 292.5,-3, 291,-4, 289,-5, 287,-5, 285,-3, 283,-1, 281,1.5, 279,2.5, 277.5,2.5, 276.5,1, 275.5,-2, 274,-5, 273,-6.5, 272,-7, 271,-6, 270,-3, 268.5,-1, 266,-0.3, 262,0, 205,0],
[299,-1, 297.5,-2.5, 295.5,-4, 293,-6, 290.5,-6.5, 288,-5.5, 286,-3, 284,0, 282,2.5, 280,3.5, 278.5,3.5, 277,2, 275.5,-1, 274.5,-3.5, 273,-6, 272,-6.5, 271,-5, 270,-3, 268.5,-1, 266,-0.3, 262,0, 205,0],
[304,-1, 302.5,-2, 300.5,-3.5, 298,-5, 295,-6, 292,-6, 289.5,-4.5, 287,-2, 285,0.5, 282.5,3, 280,4, 278.5,4, 277,2.5, 275.5,-1, 274.5,-3.5, 273.5,-5.5, 272.5,-6, 271.5,-4.5, 270,-2.5, 268.5,-1, 266,-0.3, 262,0, 205,0],
[309,-1, 307,-1.5, 305,-3, 302,-4.5, 299,-6, 296,-6.5, 293,-6, 290,-3.5, 287,-0.5, 284,2, 281,4, 279,4.5, 277.5,3.5, 276,1, 275,-2, 274,-4.5, 273,-6, 272,-5, 270.5,-3, 269,-1, 266,-0.3, 262,0, 205,0],
[289,-3, 287.5,-5, 286,-6.5, 284,-7, 282,-5, 280,-1.5, 278.5,1, 277,2, 276,0, 275,-3.5, 274,-8, 273,-12, 272,-13, 271,-10, 270,-6, 268.5,-2, 266,-0.5, 262,0, 205,0],
[294,-2.5, 292.5,-5, 291,-7, 289,-9, 287,-8.5, 285,-5.5, 283,-1.5, 281,2.5, 279,4.5, 277.5,4, 276.5,1.5, 275.5,-3, 274,-8, 273,-11, 272,-12, 271,-10, 270,-5.5, 268.5,-2, 266,-0.5, 262,0, 205,0],
[299,-2, 297.5,-4, 295.5,-7, 293,-10, 290.5,-11, 288,-9, 286,-5, 284,0, 282,4, 280,6, 278.5,6, 277,3.5, 275.5,-2, 274.5,-6, 273,-10, 272,-11, 271,-9, 270,-5, 268.5,-2, 266,-0.5, 262,0, 205,0],
[304,-2, 302.5,-3.5, 300.5,-6, 298,-8.5, 295,-10, 292,-10, 289.5,-8, 287,-3.5, 285,1, 282.5,5, 280,7, 278.5,7, 277,4, 275.5,-1.5, 274.5,-6, 273.5,-9.5, 272.5,-10, 271.5,-8, 270,-4, 268.5,-1.5, 266,-0.5, 262,0, 205,0],
[309,-1.5, 307,-2.5, 305,-5, 302,-8, 299,-10, 296,-11, 293,-10, 290,-6, 287,-1, 284,3, 281,7, 279,8, 277.5,6, 276,1.5, 275,-4, 274,-8, 273,-10, 272,-9, 270.5,-5, 269,-2, 267,-0.6, 262,0, 205,0],
[289,-4, 287.5,-7, 286,-9, 284,-10, 282,-7, 280,-2, 278.5,1.5, 277,2.5, 276,0, 275,-5, 274,-12, 273,-17, 272,-18, 271,-15, 270,-8, 268.5,-3, 266,-1, 262,0, 205,0],
[294,-3.5, 292.5,-7, 291,-10, 289,-13, 287,-12, 285,-8, 283,-2, 281,3.5, 279,6, 277.5,5, 276.5,2, 275.5,-4, 274,-12, 273,-16, 272,-17, 271,-14, 270,-8, 268.5,-3, 266,-1, 262,0, 205,0],
[299,-2.5, 297.5,-6, 295.5,-10, 293,-14, 290.5,-15, 288,-13, 286,-7, 284,0, 282,5, 280,8, 278.5,8, 277,4.5, 275.5,-3, 274.5,-9, 273,-15, 272,-16, 271,-13, 270,-7, 268.5,-2.5, 266,-1, 262,0, 205,0],
[304,-2.5, 302.5,-5, 300.5,-9, 298,-12, 295,-14, 292,-14, 289.5,-11, 287,-5, 285,1, 282.5,6, 280,9, 278.5,9, 277,5, 275.5,-2, 274.5,-9, 273.5,-14, 272.5,-15, 271.5,-12, 270,-6, 268.5,-2.5, 266,-1, 262,0, 205,0],
[309,-2, 307,-3.5, 305,-7, 302,-11, 299,-14, 296,-16, 293,-14, 290,-9, 287,-2, 284,4, 281,9, 279,10, 277.5,8, 276,2, 275,-6, 274,-12, 273,-15, 272,-13, 270.5,-7, 269,-3, 267,-1, 264,-0.3, 260,0, 205,0],
[289,-5, 287.5,-8, 286,-11, 284,-12, 282,-8, 280,-2, 278.5,2, 277,3, 276,0, 275,-6, 274,-14, 273,-20, 272,-22, 271,-18, 270,-10, 268.5,-4, 266,-1, 262,0, 205,0],
[294,-4, 292.5,-8, 291,-12, 289,-15, 287,-14, 285,-9, 283,-2, 281,4, 279,7, 277.5,6, 276.5,2, 275.5,-5, 274,-14, 273,-19, 272,-20, 271,-16, 270,-9, 268.5,-3, 266,-1, 262,0, 205,0],
[299,-3, 297.5,-7, 295.5,-12, 293,-16, 290.5,-18, 288,-15, 286,-8, 284,0, 282,6, 280,9, 278.5,9, 277,5, 275.5,-3, 274.5,-11, 273,-18, 272,-19, 271,-15, 270,-8, 268.5,-3, 266,-1, 262,0, 205,0],
[304,-3, 302.5,-6, 300.5,-10, 298,-14, 295,-17, 292,-17, 289.5,-13, 287,-6, 285,1, 282.5,7, 280,10, 278.5,10, 277,6, 275.5,-2, 274.5,-10, 273.5,-16, 272.5,-18, 271.5,-14, 270,-7, 268.5,-3, 266,-1, 262,0, 205,0],
[309,-2, 307,-4, 305,-8, 302,-13, 299,-17, 296,-19, 293,-17, 290,-11, 287,-3, 284,5, 281,10.5, 279,11.5, 277.5,9, 276,2, 275,-7, 274,-14, 273,-17, 272,-15, 270.5,-8, 269,-3, 267,-1, 264,-0.3, 260,0, 205,0]
];

const dCloudIce = [
[289,0, 205,0], [294,0, 205,0], [299,0, 205,0], [304,0, 205,0], [309,0, 205,0],
[289,0, 262,0, 258,-0.5, 254,-1.5, 250,-3, 247,-6, 244,-10, 241,-15, 239,-17.5, 237.5,-18.5, 236,-17.5, 234,-14, 232,-10, 230,-5, 227.5,0, 225,3, 222,5, 220,5.5, 218,4.7, 215,3, 212,1.5, 208,0.5, 204,0.1],
[294,0, 262,0, 258,-0.5, 254,-1.5, 250,-3.5, 247,-6.5, 244,-11, 241,-16, 239,-19, 237.5,-20.5, 236,-19, 234,-15.5, 232,-10.5, 229.5,-5, 227,0, 224,3.5, 221,5.5, 219,6, 217,5, 214,3.3, 211,1.6, 207,0.5, 203,0.1],
[299,0, 262,0, 258,-0.5, 254,-1.5, 250,-3.5, 247,-7, 244,-11.5, 241,-17, 239,-21, 237.5,-22, 236,-21, 234,-17, 231.5,-11, 229,-5, 226,0, 223,4, 220,6.5, 218,7, 216,6, 213,4, 210,2, 207,0.7, 203,0.1],
[304,0, 262,0, 258,-0.5, 254,-1.5, 250,-3.5, 247,-7, 244,-12, 241,-18, 239,-22, 237.5,-23, 236,-22, 233.5,-17.5, 231,-11.5, 228,-5, 225,0, 222,4.5, 219,7, 217,7.5, 215,6.5, 212,4.5, 209,2.2, 206,0.8, 203,0.2],
[309,0, 262,0, 258,-0.5, 254,-1.5, 250,-3.5, 247,-7, 244,-12, 241,-18, 238.5,-23, 237,-24, 235.5,-23, 233,-18.5, 230,-12, 227,-5.5, 224,0, 221,5, 218,8, 216,9, 214,8, 211,5, 208,2.2, 205,0.8, 202,0.2],
[289,0, 262,0, 258,-0.8, 254,-2, 250,-4.5, 247,-8.5, 244,-13.5, 241,-20, 239,-24, 237.5,-25.5, 236,-24, 234,-19.5, 232,-13.5, 230,-7, 227.5,0, 225,4, 222,7, 220,7.5, 218,6.5, 215,4, 212,2, 208,0.7, 204,0.1],
[294,0, 262,0, 258,-0.8, 254,-2, 250,-4.5, 247,-9, 244,-15, 241,-22, 239,-26, 237.5,-28, 236,-26, 234,-21, 232,-14, 229.5,-7, 227,0, 224,4.5, 221,7.5, 219,8, 217,7, 214,4.5, 211,2.2, 207,0.7, 203,0.1],
[299,0, 262,0, 258,-0.8, 254,-2, 250,-5, 247,-9.5, 244,-16, 241,-23, 239,-28, 237.5,-30, 236,-28.5, 234,-23, 231.5,-15, 229,-7, 226,0, 223,5, 220,9, 218,10, 216,8.5, 213,5, 210,2.5, 207,0.9, 203,0.2],
[304,0, 262,0, 258,-0.8, 254,-2, 250,-5, 247,-9.5, 244,-16, 241,-25, 239,-30, 237.5,-31.5, 236,-30, 233.5,-24, 231,-16, 228,-7, 225,0, 222,6, 219,10, 217,10.5, 215,9, 212,6, 209,3, 206,1, 203,0.2],
[309,0, 262,0, 258,-0.8, 254,-2, 250,-5, 247,-9.5, 244,-16, 241,-25, 238.5,-31, 237,-33, 235.5,-31, 233,-25, 230,-16, 227,-7, 224,0, 221,6.5, 218,11, 216,12, 214,10.5, 211,7, 208,3, 205,1, 202,0.2],
[289,0, 262,0, 258,-1, 254,-2.5, 250,-5, 247,-9.5, 244,-16, 241,-24, 239,-28, 237.5,-30, 236,-28, 234,-23, 232,-16, 230,-8, 227.5,0, 225,4.5, 222,8, 220,9, 218,7.5, 215,5, 212,2.5, 208,0.8, 204,0.2],
[294,0, 262,0, 258,-1, 254,-2.5, 250,-5.5, 247,-10.5, 244,-17.5, 241,-25, 239,-31, 237.5,-32.5, 236,-31, 234,-25, 232,-17, 229.5,-8, 227,0, 224,5.5, 221,9, 219,9.5, 217,8.5, 214,5.5, 211,2.5, 207,0.8, 203,0.2],
[299,0, 262,0, 258,-1, 254,-2.5, 250,-6, 247,-11, 244,-18, 241,-27, 239,-33, 237.5,-35, 236,-33, 234,-27, 231.5,-18, 229,-8, 226,0, 223,6, 220,10.5, 218,11.5, 216,9.5, 213,6, 210,3, 207,1, 203,0.2],
[304,0, 262,0, 258,-1, 254,-2.5, 250,-6, 247,-11, 244,-19, 241,-29, 239,-35, 237.5,-37, 236,-35, 233.5,-28, 231,-18, 228,-8, 225,0, 222,7, 219,11.5, 217,12, 215,10.5, 212,7, 209,3.5, 206,1.3, 203,0.3],
[309,0, 262,0, 258,-1, 254,-2.5, 250,-6, 247,-11, 244,-19, 241,-29, 238.5,-37, 237,-39, 235.5,-37, 233,-30, 230,-19, 227,-9, 224,0, 221,8, 218,13, 216,14, 214,12, 211,8, 208,3.5, 205,1.3, 202,0.3],
[289,0, 262,0, 258,-1, 254,-3, 250,-6, 247,-11, 244,-18, 241,-27, 239,-32, 237.5,-34, 236,-32, 234,-26, 232,-18, 230,-9, 227.5,0, 225,5, 222,9, 220,10, 218,8.5, 215,5.5, 212,3, 208,1, 204,0.2],
[294,0, 262,0, 258,-1, 254,-3, 250,-6, 247,-12, 244,-20, 241,-29, 239,-35, 237.5,-37, 236,-35, 234,-28, 232,-19, 229.5,-9, 227,0, 224,6, 221,10, 219,11, 217,9.5, 214,6, 211,3, 207,1, 203,0.2],
[299,0, 262,0, 258,-1, 254,-3, 250,-7, 247,-13, 244,-21, 241,-31, 239,-38, 237.5,-40, 236,-38, 234,-31, 231.5,-20, 229,-9, 226,0, 223,7, 220,12, 218,13, 216,11, 213,7, 210,3.5, 207,1.2, 203,0.2],
[304,0, 262,0, 258,-1, 254,-3, 250,-7, 247,-13, 244,-22, 241,-33, 239,-40, 237.5,-42, 236,-40, 233.5,-32, 231,-21, 228,-9, 225,0, 222,8, 219,13, 217,14, 215,12, 212,8, 209,4, 206,1.5, 203,0.3],
[309,0, 262,0, 258,-1, 254,-3, 250,-7, 247,-13, 244,-22, 241,-33, 238.5,-42, 237,-44, 235.5,-42, 233,-34, 230,-22, 227,-10, 224,0, 221,9, 218,15, 216,16, 214,14, 211,9, 208,4, 205,1.5, 202,0.3]
];

const dGraupel = [
[289,0, 205,0], [294,0, 205,0], [299,0, 205,0], [304,0, 205,0], [309,0, 205,0],
[289,0, 283,0, 281,-0.5, 279,-1, 277.5,-0.5, 276,1, 274.5,4, 273,7.5, 271,12, 269,15.5, 267,17.5, 264,18, 262,17, 259,15, 256,13, 253,11, 249,9, 245,7.2, 241,5.7, 237,4.4, 233,3.2, 229,2.3, 225,1.6, 221,1.1, 217,0.7, 213,0.4, 209,0.1, 205,0],
[294,0, 283,0, 281,-0.5, 279,-1, 277.5,-0.5, 276,1.2, 274.5,4.5, 273,8.5, 271,13.5, 269,17.5, 267,20.5, 265,21, 263,19.5, 260,17, 257,14.8, 254,12.7, 250,10.4, 246,8.5, 242,6.8, 238,5.4, 234,4.1, 230,3.1, 226,2.2, 222,1.6, 218,1, 214,0.5, 210,0.2, 206,0.05, 202,0],
[299,0, 283,0, 281,-0.5, 279,-1, 277.5,-0.5, 276,1.3, 274.5,5, 273,9.5, 271,15, 269,19.5, 266,24, 264,22.5, 262,20.5, 259,18, 256,15.5, 253,13.5, 249,11, 245,9, 241,7.4, 237,5.9, 233,4.5, 229,3.4, 225,2.5, 221,1.8, 217,1.1, 213,0.6, 209,0.2, 205,0.05, 201,0],
[304,0, 283,0, 281,-0.5, 279,-1, 277.5,-0.5, 276,1.5, 274.5,5.5, 273,10.5, 271,16, 269,21, 267,25.5, 265,24.5, 263,22.5, 260,19.5, 257,17, 254,15, 250,12.5, 246,10.5, 242,8.7, 238,7, 234,5.5, 230,4.2, 226,3, 222,2.2, 218,1.4, 214,0.8, 210,0.3, 206,0.1, 202,0],
[309,0, 284,0, 282,-0.5, 280,-1, 278.5,-0.5, 277,1.5, 275.5,5.5, 274,11, 272,17, 270,22, 268,27, 266,26, 264,24, 261,21, 258,18.5, 255,16.5, 251,14, 247,12, 243,10, 239,8, 235,6.4, 231,5, 227,3.6, 223,2.6, 219,1.8, 215,1, 211,0.5, 207,0.1, 203,0],
[289,0, 283,0, 281,-0.8, 279,-1.5, 277.5,-0.8, 276,2, 274.5,7, 273,12.5, 271,19, 269,25, 267,28.5, 264,30, 262,28, 259,25, 256,21.5, 253,18.5, 249,15, 245,12, 241,9.5, 237,7.2, 233,5.3, 229,3.8, 225,2.6, 221,1.8, 217,1.1, 213,0.6, 209,0.2, 205,0],
[294,0, 283,0, 281,-0.8, 279,-1.5, 277.5,-0.8, 276,2, 274.5,7.5, 273,14, 271,21, 269,27, 267,31.5, 265,33, 263,30.5, 260,27, 257,23.5, 254,20, 250,16.5, 246,13.5, 242,10.8, 238,8.5, 234,6.4, 230,4.8, 226,3.4, 222,2.4, 218,1.5, 214,0.8, 210,0.3, 206,0.1, 202,0],
[299,0, 283,0, 281,-0.8, 279,-1.5, 277.5,-0.8, 276,2.2, 274.5,8, 273,15, 271,23, 269,30, 266,36, 264,33.5, 262,30, 259,26.5, 256,23, 253,20, 249,16.5, 245,13.5, 241,11, 237,8.7, 233,6.6, 229,5, 225,3.6, 221,2.6, 217,1.6, 213,0.9, 209,0.4, 205,0.1, 201,0],
[304,0, 283,0, 281,-0.8, 279,-1.5, 277.5,-0.8, 276,2.5, 274.5,9, 273,17, 271,25, 269,32, 267,38, 265,35.5, 263,32, 260,28, 257,24.5, 254,21.5, 250,18, 246,15, 242,12.5, 238,10, 234,7.8, 230,5.8, 226,4.2, 222,3, 218,2, 214,1.1, 210,0.5, 206,0.1, 202,0],
[309,0, 284,0, 282,-0.8, 280,-1.5, 278.5,-0.8, 277,2.5, 275.5,9, 274,17, 272,26, 270,34, 268,40, 266,37.5, 264,34, 261,30, 258,26.5, 255,23.5, 251,20, 247,17, 243,14, 239,11.5, 235,9, 231,7, 227,5, 223,3.5, 219,2.4, 215,1.4, 211,0.6, 207,0.2, 203,0],
[289,0, 283,0, 281,-1, 279,-2, 277.5,-1, 276,2.5, 274.5,9, 273,16, 271,25, 269,32, 267,38, 264,40, 262,37, 259,33, 256,28.5, 253,24.5, 249,20, 245,16, 241,12.5, 237,9.5, 233,7, 229,5, 225,3.3, 221,2.2, 217,1.3, 213,0.7, 209,0.2, 205,0],
[294,0, 283,0, 281,-1, 279,-2, 277.5,-1, 276,3, 274.5,10, 273,18, 271,27, 269,35, 267,41, 265,43, 263,40, 260,35, 257,31, 254,26.5, 250,22, 246,18, 242,14.5, 238,11.5, 234,8.7, 230,6.5, 226,4.5, 222,3.2, 218,2, 214,1.1, 210,0.4, 206,0.1, 202,0],
[299,0, 283,0, 281,-1, 279,-2, 277.5,-1, 276,3, 274.5,10.5, 273,19, 271,30, 269,39, 266,45, 264,42, 262,38.5, 259,34, 256,30, 253,26, 249,22, 245,18, 241,15, 237,12, 233,9, 229,7, 225,5, 221,3.5, 217,2.3, 213,1.2, 209,0.5, 205,0.1, 201,0],
[304,0, 283,0, 281,-1, 279,-2, 277.5,-1, 276,3.5, 274.5,12, 273,22, 271,33, 269,40, 267,46, 265,44, 263,40.5, 260,36, 257,32, 254,28, 250,24, 246,20, 242,16.5, 238,13.5, 234,10.5, 230,8, 226,6, 222,4.3, 218,2.8, 214,1.5, 210,0.7, 206,0.2, 202,0],
[309,0, 284,0, 282,-1, 280,-2, 278.5,-1, 277,3.5, 275.5,12, 274,22, 272,33, 270,41, 268,47, 266,45, 264,42, 261,37.5, 258,34, 255,30, 251,26, 247,22, 243,18.5, 239,15, 235,12, 231,9.5, 227,7, 223,5, 219,3.5, 215,2, 211,1, 207,0.3, 203,0],
[289,0, 283,0, 281,-1, 279,-2, 277.5,-1, 276,3, 274.5,10, 273,18, 271,28, 269,36, 267,42, 264,44, 262,41.5, 259,37, 256,33, 253,28.5, 249,23.5, 245,19, 241,15, 237,11.5, 233,8.5, 229,6, 225,4, 221,2.8, 217,1.7, 213,0.9, 209,0.3, 205,0.05, 202,0],
[294,0, 283,0, 281,-1, 279,-2, 277.5,-1, 276,3, 274.5,11, 273,20, 271,30, 269,38, 267,44, 265,46.5, 263,44, 260,40, 257,35.5, 254,31, 250,26, 246,21.5, 242,17.5, 238,14, 234,10.5, 230,8, 226,5.5, 222,4, 218,2.5, 214,1.3, 210,0.5, 206,0.1, 202,0],
[299,0, 283,0, 281,-1, 279,-2, 277.5,-1, 276,3.5, 274.5,12, 273,22, 271,33, 269,42, 266,49, 264,47, 262,43.5, 259,39, 256,34.5, 253,30.5, 249,26, 245,21.5, 241,18, 237,14.5, 233,11, 229,8.5, 225,6, 221,4.5, 217,3, 213,1.5, 209,0.6, 205,0.1, 201,0],
[304,0, 283,0, 281,-1, 279,-2, 277.5,-1, 276,4, 274.5,14, 273,25, 271,36, 269,44, 267,50.5, 265,48.5, 263,45.5, 260,41, 257,37, 254,33, 250,28.5, 246,24, 242,20, 238,16.5, 234,13, 230,10, 226,7.5, 222,5.5, 218,3.5, 214,2, 210,1, 206,0.3, 202,0],
[309,0, 284,0, 282,-1, 280,-2, 278.5,-1, 277,4, 275.5,14, 274,25, 272,36, 270,45, 268,52, 266,50, 264,47, 261,43, 258,39, 255,35.5, 251,31, 247,27, 243,23, 239,19, 235,15.5, 231,12, 227,9, 223,6.5, 219,4.5, 215,2.5, 211,1.2, 207,0.4, 203,0]
];

const dSnow = [
[289,0, 205,0], [294,0, 205,0], [299,0, 205,0], [304,0, 205,0], [309,0, 205,0],
[289,0, 279,0, 277,-0.4, 275.5,-1.4, 274,-2, 273,-1.4, 271.5,1.7, 270,7, 268.5,13, 267,17.5, 265.5,19, 264,17, 262,13, 260,10, 257,6.3, 254,3.2, 251,0.7, 248,-1, 245,-2, 242,-2.5, 239,-2, 236,-1.6, 232,-1, 228,-0.5, 224,-0.2, 220,0, 205,0],
[294,0, 279,0, 277,-0.4, 275.5,-1.4, 274,-2, 272.5,-1.4, 271,1.4, 269.5,6, 268,11, 266.5,14.5, 265,16, 263,14, 261,11, 258,7.3, 255,4.2, 252,1.8, 249,-0.3, 246,-1.7, 243,-2.6, 240,-2.8, 237,-2.4, 234,-1.8, 230,-1, 226,-0.5, 222,-0.2, 218,0, 205,0],
[299,0, 279,0, 277,-0.5, 275.5,-1.7, 274,-2.5, 272.5,-1.9, 271,0.7, 269,5, 267,10, 265,13, 263.5,13.7, 261.5,12, 259,8.8, 256,5.6, 253,2.8, 250,0.3, 247,-1.4, 244,-2.8, 241,-3.3, 238,-3.1, 235,-2.5, 231,-1.6, 227,-0.9, 223,-0.3, 219,-0.1, 215,0, 205,0],
[304,0, 279,0, 277,-0.5, 275.5,-1.7, 274,-2.6, 272,-2.1, 270,0, 268,3.5, 266,7.7, 264,10.5, 262,11.2, 259.5,9.5, 257,6.7, 254,3.9, 251,1.4, 248,-0.7, 245,-2.5, 242,-3.3, 239,-3.5, 236,-3, 233,-2.3, 229,-1.4, 225,-0.7, 221,-0.2, 217,0, 205,0],
[309,0, 279,0, 277,-0.7, 275.5,-1.9, 274,-2.8, 272,-2.5, 269.5,-0.3, 267,2.5, 264.5,5.2, 262,7, 259.5,7.3, 257,6, 254,3.9, 251,1.4, 248,-0.7, 245,-2.5, 242,-3.5, 239,-3.7, 236,-3.2, 233,-2.5, 229,-1.6, 225,-0.9, 221,-0.3, 217,-0.1, 214,0, 205,0],
[289,0, 279,0, 277,-0.6, 275.5,-2.5, 274,-3.5, 273,-2.5, 271.5,3, 270,12, 268.5,23, 267,30, 265.5,32.5, 264,29, 262,23, 260,17, 257,11, 254,5.5, 251,1, 248,-2, 245,-3.5, 242,-4, 239,-3.5, 236,-2.7, 232,-1.8, 228,-0.9, 224,-0.3, 220,0, 205,0],
[294,0, 279,0, 277,-0.6, 275.5,-2.5, 274,-3.5, 272.5,-2.5, 271,2.5, 269.5,10, 268,19, 266.5,25, 265,27.5, 263,24, 261,18.5, 258,12.5, 255,7, 252,3, 249,-0.5, 246,-3, 243,-4.5, 240,-5, 237,-4.2, 234,-3, 230,-1.8, 226,-0.9, 222,-0.3, 218,0, 205,0],
[299,0, 279,0, 277,-0.9, 275.5,-3, 274,-4.2, 272.5,-3.3, 271,1.2, 269,8.5, 267,17, 265,22, 263.5,23.5, 261.5,20.5, 259,15, 256,9.5, 253,5, 250,0.6, 247,-2.4, 244,-4.8, 241,-5.7, 238,-5.4, 235,-4.2, 231,-2.7, 227,-1.5, 223,-0.6, 219,-0.2, 215,0, 205,0],
[304,0, 279,0, 277,-0.9, 275.5,-3, 274,-4.5, 272,-3.6, 270,0, 268,6, 266,13, 264,18, 262,19, 259.5,16, 257,11.5, 254,6.5, 251,2.4, 248,-1.2, 245,-4.2, 242,-5.7, 239,-6, 236,-5.1, 233,-3.9, 229,-2.4, 225,-1.2, 221,-0.4, 217,0, 205,0],
[309,0, 279,0, 277,-1.2, 275.5,-3.3, 274,-4.8, 272,-4.2, 269.5,-0.6, 267,4.2, 264.5,9, 262,12, 259.5,12.6, 257,10, 254,6.6, 251,2.4, 248,-1.2, 245,-4.2, 242,-6, 239,-6.3, 236,-5.4, 233,-4.2, 229,-2.7, 225,-1.5, 221,-0.6, 217,-0.1, 214,0, 205,0],
[289,0, 279,0, 277,-1, 275.5,-3.5, 274,-5, 273,-3.5, 271.5,4, 270,17, 268.5,32, 267,42, 265.5,46, 264,41, 262,32, 260,24, 257,15, 254,7.5, 251,1.5, 248,-2.5, 245,-5, 242,-6, 239,-5, 236,-4, 232,-2.5, 228,-1.2, 224,-0.4, 220,0, 205,0],
[294,0, 279,0, 277,-1, 275.5,-3.5, 274,-5, 272.5,-3.5, 271,3.5, 269.5,14, 268,27, 266.5,36, 265,39, 263,34, 261,26, 258,18, 255,10, 252,4, 249,-1, 246,-4, 243,-6.5, 240,-7, 237,-6, 234,-4.5, 230,-2.5, 226,-1.2, 222,-0.4, 218,0, 205,0],
[299,0, 279,0, 277,-1.2, 275.5,-4, 274,-6, 272.5,-4.5, 271,2, 269,12, 267,24, 265,31, 263.5,33, 261.5,29, 259,21, 256,13.5, 253,7, 250,1, 247,-3.5, 244,-7, 241,-8, 238,-7.5, 235,-6, 231,-4, 227,-2, 223,-0.8, 219,-0.2, 215,0, 205,0],
[304,0, 279,0, 277,-1.2, 275.5,-4, 274,-6.5, 272,-5, 270,0, 268,8.5, 266,19, 264,25.5, 262,27, 259.5,23, 257,16, 254,9.5, 251,3.5, 248,-1.5, 245,-6, 242,-8, 239,-8.5, 236,-7.2, 233,-5.5, 229,-3.4, 225,-1.7, 221,-0.6, 217,0, 205,0],
[309,0, 279,0, 277,-1.7, 275.5,-4.7, 274,-7, 272,-6, 269.5,-1, 267,6, 264.5,13, 262,17, 259.5,18, 257,14.5, 254,9.5, 251,3.5, 248,-1.7, 245,-6, 242,-8.5, 239,-9, 236,-7.6, 233,-6, 229,-3.8, 225,-2, 221,-0.8, 217,-0.2, 214,0, 205,0],
[289,0, 279,0, 277,-1, 275.5,-4, 274,-6, 273,-4, 271.5,5, 270,20, 268.5,38, 267,50, 265.5,54, 264,48, 262,38, 260,28, 257,18, 254,9, 251,2, 248,-3, 245,-6, 242,-7, 239,-6, 236,-4.5, 232,-3, 228,-1.5, 224,-0.5, 220,0, 205,0],
[294,0, 279,0, 277,-1, 275.5,-4, 274,-6, 272.5,-4, 271,4, 269.5,17, 268,32, 266.5,42, 265,46, 263,40, 261,31, 258,21, 255,12, 252,5, 249,-1, 246,-5, 243,-7.5, 240,-8, 237,-7, 234,-5, 230,-3, 226,-1.5, 222,-0.5, 218,0, 205,0],
[299,0, 279,0, 277,-1.5, 275.5,-5, 274,-7, 272.5,-5.5, 271,2, 269,14, 267,28, 265,37, 263.5,39, 261.5,34, 259,25, 256,16, 253,8, 250,1, 247,-4, 244,-8, 241,-9.5, 238,-9, 235,-7, 231,-4.5, 227,-2.5, 223,-1, 219,-0.3, 215,0, 205,0],
[304,0, 279,0, 277,-1.5, 275.5,-5, 274,-7.5, 272,-6, 270,0, 268,10, 266,22, 264,30, 262,32, 259.5,27, 257,19, 254,11, 251,4, 248,-2, 245,-7, 242,-9.5, 239,-10, 236,-8.5, 233,-6.5, 229,-4, 225,-2, 221,-0.7, 217,0, 205,0],
[309,0, 279,0, 277,-2, 275.5,-5.5, 274,-8, 272,-7, 269.5,-1, 267,7, 264.5,15, 262,20, 259.5,21, 257,17, 254,11, 251,4, 248,-2, 245,-7, 242,-10, 239,-10.5, 236,-9, 233,-7, 229,-4.5, 225,-2.5, 221,-1, 217,-0.2, 214,0, 205,0]
];

// Panel definitions: x-domain in g/kg, tick values and their labels
const panels = [
  {title: 'a) Cloud liquid water', rows: cloudLiquid, aloft: liquidAloft, dom: [-0.00065, 0.01383], ticks: [0, 0.01], labels: ['0', '0.01']},
  {title: 'b) Rain', rows: rain, aloft: rainAloft, dom: [-0.00047, 0.01008], ticks: [0, 0.009], labels: ['0', '0.009']},
  {title: 'c) Cloud ice', rows: cloudIce, dom: [-0.00086, 0.01724], ticks: [0, 0.01], labels: ['0', '0.01']},
  {title: 'd) Graupel', rows: graupel, dom: [-0.00099, 0.01949], ticks: [0, 0.015], labels: ['0', '0.015']},
  {title: 'e) Snow', rows: snow, dom: [-0.0006, 0.0127], ticks: [0, 0.01], labels: ['0', '0.01']},
  {title: 'f) \u0394Cloud liquid water', rows: dCloudLiquid, dom: [-0.00229, 0.00735], ticks: [0, 0.005], labels: ['0', '0.005']},
  {title: 'g) \u0394Rain', rows: dRain, dom: [-0.00232, 0.00128], ticks: [-0.001, 0, 0.001], labels: ['-0.001', '0', '0.001']},
  {title: 'h) \u0394Cloud ice', rows: dCloudIce, dom: [-0.00466, 0.0018], ticks: [-0.003, 0], labels: ['-0.003', '0']},
  {title: 'i) \u0394Graupel', rows: dGraupel, dom: [-0.00048, 0.00569], ticks: [0, 0.005], labels: ['0', '0.005']},
  {title: 'j) \u0394Snow', rows: dSnow, dom: [-0.00111, 0.00565], ticks: [0, 0.004], labels: ['0', '0.004']}
];
const tempTicks = [200, 220, 240, 260, 280, 300];

const panelW = 196, left0 = 93.5, colStep = 208.1;
const rowY = [[33.3, 436.7], [498.3, 901.7]];
const tDomain = [186.3, 314.2];
const font = '"DejaVu Sans", sans-serif';

const svg = d3.select('#chart');
svg.append('rect').attr('width', 1122).attr('height', 970).attr('fill', '#fff');

function toPoints(flat, aloft, k) {
  const pts = [];
  for (let i = 0; i < flat.length; i += 2) pts.push([flat[i], flat[i + 1]]);
  if (aloft) {
    const last = pts[pts.length - 1][0];
    for (let i = 0; i < aloft.length; i += 2) if (aloft[i] < last) pts.push([aloft[i], aloft[i + 1]]);
  }
  if (pts[pts.length - 1][0] > coldPoint[k]) pts.push([coldPoint[k], 0]);
  return pts;
}

panels.forEach((p, idx) => {
  const row = Math.floor(idx / 5), col = idx % 5;
  const L = left0 + col * colStep, R = L + panelW;
  const [top, bot] = rowY[row];
  const x = d3.scaleLinear().domain(p.dom).range([L, R]);
  const y = d3.scaleLinear().domain(tDomain).range([top, bot]);
  const g = svg.append('g');

  const clipId = 'clip' + idx;
  g.append('clipPath').attr('id', clipId).append('rect')
    .attr('x', L).attr('y', top).attr('width', panelW).attr('height', bot - top);

  const line = d3.line().x(d => x(d[1] * 1e-4)).y(d => y(d[0])).curve(d3.curveMonotoneY);
  const lines = g.append('g').attr('clip-path', `url(#${clipId})`);
  ccn.forEach((c, ci) => {
    sst.forEach((s, k) => {
      const pts = toPoints(p.rows[ci * 5 + k], p.aloft, k);
      // rise to the cold point, then back down through the stratosphere
      const d = line(pts) + `L${x(0)},${y(stratBase[k])}`;
      lines.append('path').attr('d', d)
        .attr('fill', 'none').attr('stroke', ccnColors[ci])
        .attr('stroke-width', sstWidths[k])
        .attr('stroke-linejoin', 'round').attr('stroke-linecap', 'square');
    });
  });

  // axes
  const xAxis = d3.axisBottom(x).tickValues(p.ticks).tickFormat((d, i) => p.labels[i])
    .tickSize(4.9).tickPadding(7.8);
  const gx = g.append('g').attr('transform', `translate(0,${bot})`).call(xAxis);
  const yAxis = d3.axisLeft(y).tickValues(tempTicks).tickSize(4.9).tickPadding(6)
    .tickFormat(col === 0 ? d3.format('d') : () => '');
  const gy = g.append('g').attr('transform', `translate(${L},0)`).call(yAxis);
  [gx, gy].forEach(a => {
    a.select('.domain').remove();
    a.selectAll('line').attr('stroke', '#000').attr('stroke-width', 1.1);
    a.selectAll('text').attr('font-size', 22).attr('font-family', font).attr('fill', '#000');
  });

  g.append('rect').attr('x', L).attr('y', top).attr('width', panelW).attr('height', bot - top)
    .attr('fill', 'none').attr('stroke', '#000').attr('stroke-width', 1.1);

  g.append('text').attr('x', (L + R) / 2).attr('y', top - 13)
    .attr('text-anchor', 'middle').attr('font-size', 18).attr('font-family', font)
    .text(p.title);

  if (col === 0) {
    g.append('text').attr('transform', `translate(23,${(top + bot) / 2}) rotate(-90)`)
      .attr('text-anchor', 'middle').attr('dy', '0.35em')
      .attr('font-size', 22).attr('font-family', font).text('[K]');
  }
  if (row === 1) {
    const t = g.append('text').attr('x', (L + R) / 2).attr('y', 959)
      .attr('text-anchor', 'middle').attr('font-size', 22).attr('font-family', font);
    t.append('tspan').text('[g kg');
    t.append('tspan').attr('font-size', 15).attr('dy', -9).text('\u22121');
    t.append('tspan').attr('dy', 9).text(']');
  }
});

// legend in panel a
const lg = svg.append('g');
lg.append('rect').attr('x', 95).attr('y', 38.3).attr('width', 189.3).attr('height', 91.7)
  .attr('rx', 3).attr('fill', '#fff').attr('fill-opacity', 0.8)
  .attr('stroke', '#cccccc').attr('stroke-width', 1);
const rowPos = [49.3, 66.6, 83.9, 101.2, 118.5];
ccn.forEach((c, i) => {
  lg.append('line').attr('x1', 101).attr('x2', 122).attr('y1', rowPos[i]).attr('y2', rowPos[i])
    .attr('stroke', ccnColors[i]).attr('stroke-width', 4.17).attr('stroke-linecap', 'square');
  const t = lg.append('text').attr('x', 132.5).attr('y', rowPos[i] + 4.5)
    .attr('font-size', 12.5).attr('font-family', font);
  t.append('tspan').text(c + ' cm');
  t.append('tspan').attr('font-size', 9).attr('dy', -5).text('\u22123');
});
sst.forEach((s, k) => {
  lg.append('line').attr('x1', 217.5).attr('x2', 241).attr('y1', rowPos[k]).attr('y2', rowPos[k])
    .attr('stroke', '#808080').attr('stroke-width', sstWidths[k]).attr('stroke-linecap', 'square');
  lg.append('text').attr('x', 250.5).attr('y', rowPos[k] + 4.5)
    .attr('font-size', 12.5).attr('font-family', font).text(s + 'K');
});
</script></body></html>
